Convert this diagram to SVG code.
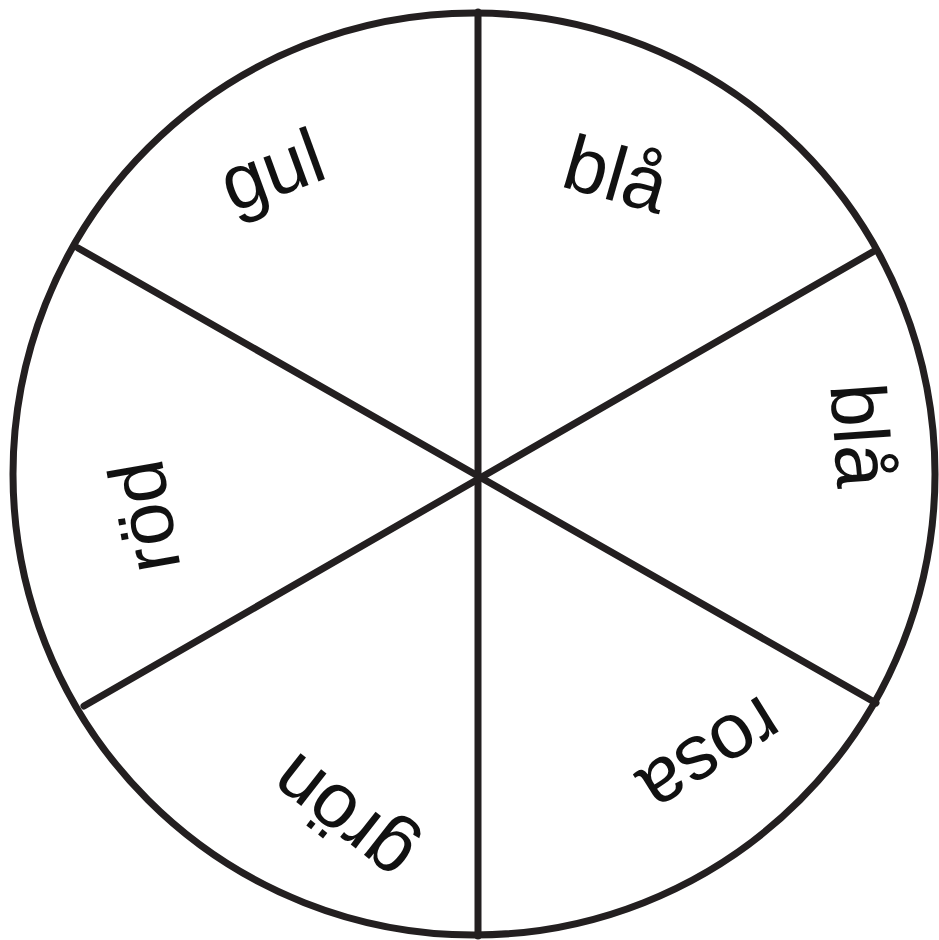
<svg xmlns="http://www.w3.org/2000/svg" width="939" height="940" viewBox="0 0 939 940">
<style>
.ln{stroke:#231f20;stroke-width:7;fill:none;stroke-linecap:round}
.lb{font-family:"Liberation Sans","DejaVu Sans",sans-serif;font-size:78px;fill:#111;text-anchor:middle}
</style>
<rect width="939" height="940" fill="#fff"/>
<g id="connectors">
<circle class="ln" cx="474" cy="474" r="461"/>
<line class="ln" x1="478" y1="12" x2="478" y2="936"/>
<line class="ln" x1="78" y1="248" x2="876" y2="703"/>
<line class="ln" x1="876" y1="250" x2="84" y2="706"/>
</g>
<g id="gul"><text class="lb" transform="translate(281,195) rotate(-20)">gul</text></g>
<g id="bla1"><text class="lb" transform="translate(609,200) rotate(16)">blå</text></g>
<g id="bla2"><text class="lb" transform="translate(834,437) rotate(86)">blå</text></g>
<g id="rosa"><text class="lb" transform="translate(697,734) rotate(148)">rosa</text></g>
<g id="gron"><text class="lb" transform="translate(358,798) rotate(-142)">grön</text></g>
<g id="rod"><text class="lb" transform="translate(171,512) rotate(-100)">röd</text></g>
</svg>
